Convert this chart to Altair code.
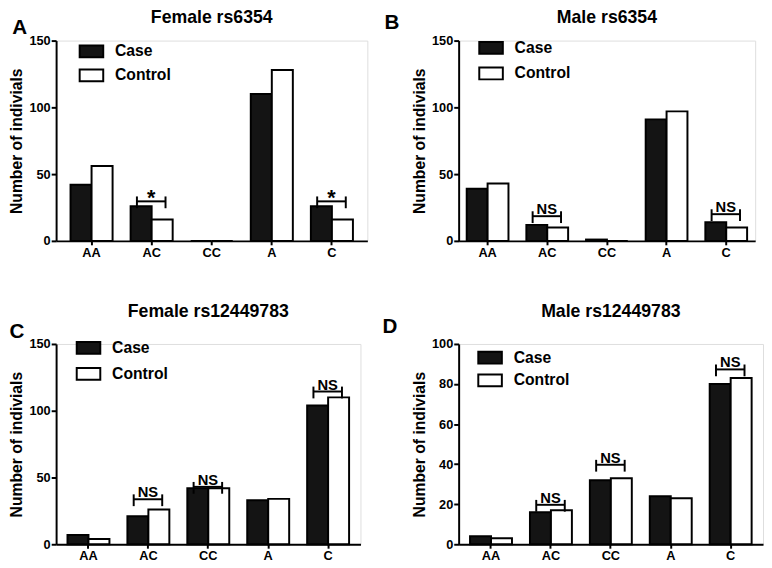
import altair as alt
import pandas as pd

FONT = "Liberation Sans"
BLACK = "#000000"

categories = ["AA", "AC", "CC", "A", "C"]
series = ["Case", "Control"]

# Panel A: Female rs6354
a_case = [42, 26, 0, 110, 26]
a_control = [56, 16, 0, 128, 16]
a_sig_cats = ["AC", "C"]
a_sig_levels = [29.6, 29.6]
a_sig_labels = ["*", "*"]

# Panel B: Male rs6354
b_case = [39, 12, 1, 91, 14]
b_control = [43, 10, 0, 97, 10]
b_sig_cats = ["AC", "C"]
b_sig_levels = [18.5, 20]
b_sig_labels = ["NS", "NS"]

# Panel C: Female rs12449783
c_case = [7, 21, 42, 33, 104]
c_control = [4, 26, 42, 34, 110]
c_sig_cats = ["AC", "CC", "C"]
c_sig_levels = [33.7, 43, 114.4]
c_sig_labels = ["NS", "NS", "NS"]

# Panel D: Male rs12449783
d_case = [4, 16, 32, 24, 80]
d_control = [3, 17, 33, 23, 83]
d_sig_cats = ["AC", "CC", "C"]
d_sig_levels = [19.7, 39.7, 87.3]
d_sig_labels = ["NS", "NS", "NS"]

YTITLE = "Number of indivials"
H = 204


def panel(title, letter, case, control, ymax, ystep, sig_cats, sig_levels, sig_labels,
          width, pad_outer, lx, ly, row_pad, letx, lety, sig_dy, sig_size, title_y):
    df = pd.DataFrame({
        "cat": categories * 2,
        "series": ["Case"] * len(categories) + ["Control"] * len(categories),
        "value": case + control,
    })
    sig = pd.DataFrame({"cat": sig_cats, "level": sig_levels, "label": sig_labels})

    xscale = alt.Scale(domain=categories, paddingInner=0.3, paddingOuter=pad_outer)
    yscale = alt.Scale(domain=[0, ymax], nice=False, zero=True)
    xaxis = alt.Axis(title=None, labelAngle=0, ticks=True, tickSize=4, tickWidth=2,
                     tickColor=BLACK, domainColor=BLACK, domainWidth=2,
                     labelFont=FONT, labelFontSize=13, labelFontWeight="bold",
                     labelColor=BLACK, labelPadding=2)
    yaxis = alt.Axis(title=YTITLE, values=list(range(0, ymax + 1, ystep)), grid=False,
                     tickSize=5, tickWidth=2, tickColor=BLACK, domainColor=BLACK,
                     domainWidth=2, labelFont=FONT, labelFontSize=13,
                     labelFontWeight="bold", labelColor=BLACK, labelPadding=1,
                     labelFlush=False, titleFont=FONT, titleFontSize=16,
                     titleFontWeight="bold", titleColor=BLACK, titlePadding=4,
                     minExtent=28, maxExtent=28)

    def X(field="cat:N", bp=None):
        if bp is None:
            return alt.X(field, scale=xscale, axis=xaxis, sort=categories)
        return alt.X(field, scale=xscale, axis=xaxis, sort=categories, bandPosition=bp)

    def Y(field):
        return alt.Y(field, scale=yscale, axis=yaxis, title=YTITLE)

    bars = alt.Chart(df).mark_bar(stroke=BLACK, strokeWidth=2).encode(
        x=X(),
        xOffset=alt.XOffset("series:N", sort=series,
                            scale=alt.Scale(domain=series, paddingInner=0, paddingOuter=0)),
        y=Y("value:Q"),
        fill=alt.Fill("series:N", scale=alt.Scale(domain=series, range=["#141414", "#ffffff"]),
                      legend=alt.Legend(title=None, orient="none", legendX=lx, legendY=ly,
                                        symbolType="M-1,-0.5H1V0.5H-1Z", symbolSize=576,
                                        symbolStrokeColor=BLACK, symbolStrokeWidth=2,
                                        symbolOpacity=1, labelFont=FONT, labelFontSize=16,
                                        labelFontWeight="bold", labelColor=BLACK,
                                        labelOffset=11, rowPadding=row_pad, padding=0)),
    )

    up = ymax * 5.0 / H
    down = ymax * 7.0 / H
    base = alt.Chart(sig).transform_calculate(
        top=f"datum.level + {up}", bottom=f"datum.level - {down}"
    )
    left_tick = base.mark_rule(color=BLACK, strokeWidth=2).encode(
        x=X(bp=0.15), y=Y("top:Q"), y2="bottom:Q")
    right_tick = base.mark_rule(color=BLACK, strokeWidth=2).encode(
        x=X(bp=0.83), y=Y("top:Q"), y2="bottom:Q")
    hline = base.mark_rule(color=BLACK, strokeWidth=2).encode(
        x=X(bp=0.15), x2=alt.X2("cat", bandPosition=0.83), y=Y("level:Q"))
    labels = base.mark_text(font=FONT, fontSize=sig_size, fontWeight="bold", color=BLACK,
                            baseline="alphabetic", dy=sig_dy).encode(
        x=X(bp=0.49), y=Y("level:Q"), text="label:N")

    let = alt.Chart(pd.DataFrame({"t": [letter]})).mark_text(
        font=FONT, fontSize=21, fontWeight="bold", color=BLACK, baseline="middle",
        align="center").encode(x=alt.value(letx), y=alt.value(lety), text="t:N")

    ttl = alt.Chart(pd.DataFrame({"t": [title]})).mark_text(
        font=FONT, fontSize=18, fontWeight="bold", color=BLACK, baseline="top",
        align="center").encode(x=alt.value(width / 2), y=alt.value(title_y), text="t:N")

    return alt.layer(bars, left_tick, right_tick, hline, labels, let, ttl).properties(
        width=width, height=H,
    )


pa = panel("Female rs6354", "A", a_case, a_control, 150, 50, a_sig_cats, a_sig_levels,
           a_sig_labels, 317, 0.24, 23, -2, 1.5, -37, -13, 4, 22, -32)
pb = panel("Male rs6354", "B", b_case, b_control, 150, 50, b_sig_cats, b_sig_levels,
           b_sig_labels, 302, 0.135, 20, -5.5, 3, -68, -18, -2, 15, -32)
pc = panel("Female rs12449783", "C", c_case, c_control, 150, 50, c_sig_cats, c_sig_levels,
           c_sig_labels, 310, 0.19, 20, -9, 3.5, -40, -12, -2, 15, -41)
pd_ = panel("Male rs12449783", "D", d_case, d_control, 100, 20, d_sig_cats, d_sig_levels,
            d_sig_labels, 310, 0.19, 19, 1, -1, -70, -17, -2, 15, -41)

chart = alt.concat(pa, pb, pc, pd_, columns=2, spacing={"row": 105, "column": 93}).properties(
    bounds="flush", align="none",
    padding={"top": -5, "left": 0, "right": 0, "bottom": 0}
).resolve_scale(
    x="independent", y="independent", fill="independent", xOffset="independent"
).resolve_axis(x="independent", y="independent").resolve_legend(
    fill="independent"
).configure_view(strokeWidth=0).configure(background="white")

chart.save("out.html", embed_options={"renderer": "svg", "actions": False})
